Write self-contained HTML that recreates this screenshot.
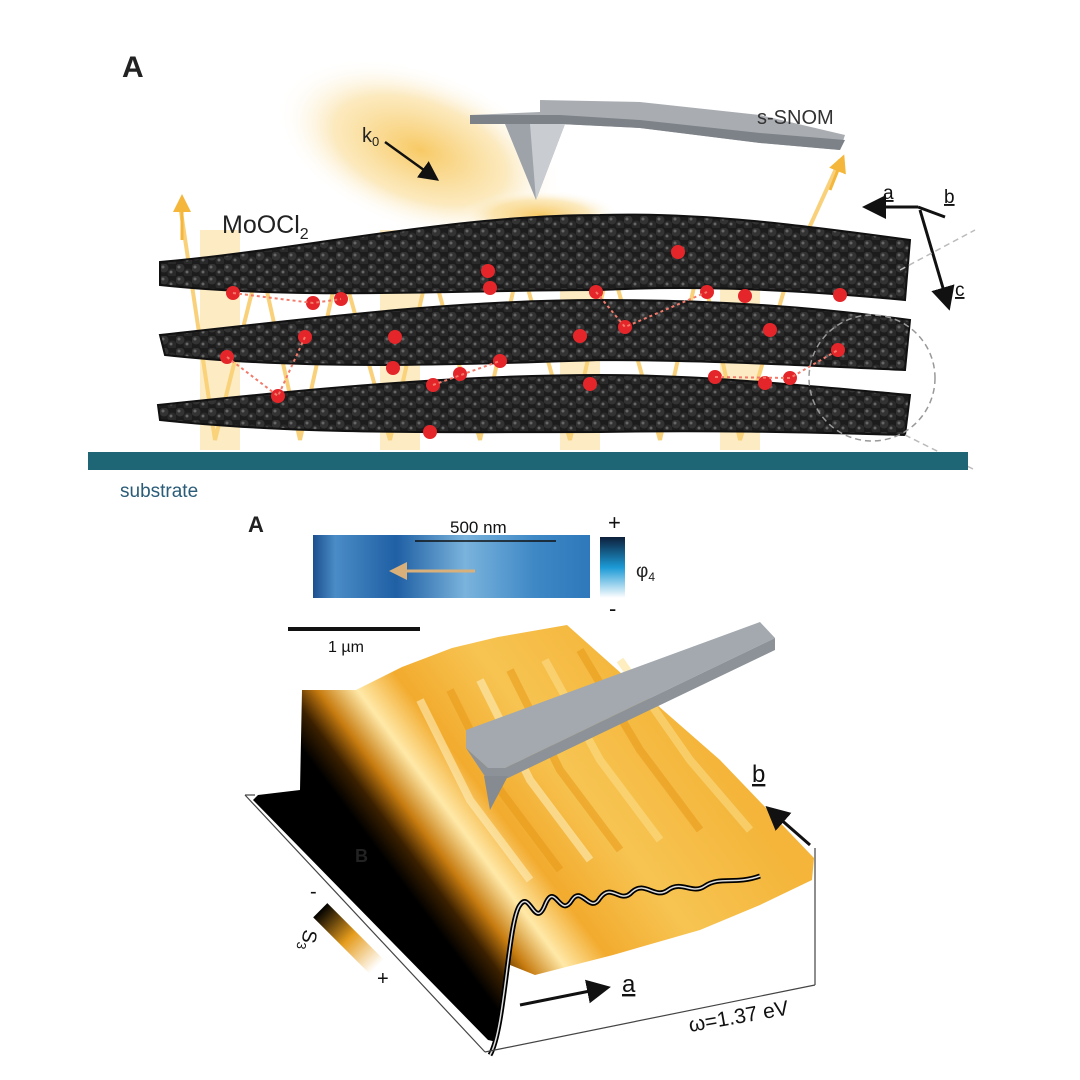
<!DOCTYPE html>
<html><head><meta charset="utf-8"><style>
html,body{margin:0;padding:0;background:#fff;}
svg{display:block;font-family:"Liberation Sans",sans-serif;}
</style></head><body>
<svg width="1080" height="1080" viewBox="0 0 1080 1080">
<defs>
<radialGradient id="glow" cx="50%" cy="50%" r="50%">
<stop offset="0" stop-color="#f6c04a" stop-opacity="0.85"/>
<stop offset="0.6" stop-color="#f8cf6e" stop-opacity="0.45"/>
<stop offset="1" stop-color="#fff" stop-opacity="0"/>
</radialGradient>
<pattern id="balls" width="16" height="12" patternUnits="userSpaceOnUse">
<rect width="16" height="12" fill="#1c1c1c"/>
<circle cx="4" cy="4" r="4.5" fill="#333"/>
<circle cx="12" cy="9" r="4.5" fill="#2a2a2a"/>
<circle cx="3" cy="3" r="1.5" fill="#666"/>
<circle cx="11" cy="8" r="1.5" fill="#666"/>
</pattern>
<linearGradient id="blue" x1="0" x2="1">
<stop offset="0" stop-color="#1d4f8f"/>
<stop offset="0.08" stop-color="#4a8cc6"/>
<stop offset="0.3" stop-color="#1f5fa4"/>
<stop offset="0.55" stop-color="#7ab3dc"/>
<stop offset="0.8" stop-color="#3e88c6"/>
<stop offset="1" stop-color="#2e78bb"/>
</linearGradient>
<linearGradient id="cbar" x1="0" y1="0" x2="0" y2="1">
<stop offset="0" stop-color="#0d1f3a"/>
<stop offset="0.5" stop-color="#1c9ad6"/>
<stop offset="1" stop-color="#ffffff"/>
</linearGradient>
<linearGradient id="surf" gradientUnits="userSpaceOnUse" x1="315" y1="900" x2="635" y2="660">
<stop offset="0" stop-color="#000"/>
<stop offset="0.2" stop-color="#000"/>
<stop offset="0.26" stop-color="#3a2000"/>
<stop offset="0.32" stop-color="#c77c10"/>
<stop offset="0.4" stop-color="#ffe9a8"/>
<stop offset="0.5" stop-color="#f2ab2e"/>
<stop offset="0.7" stop-color="#f7c452"/>
<stop offset="1" stop-color="#f4b53a"/>
</linearGradient>
<linearGradient id="s3" x1="0" y1="0" x2="1" y2="0">
<stop offset="0" stop-color="#000"/>
<stop offset="0.5" stop-color="#e59c1d"/>
<stop offset="1" stop-color="#fff"/>
</linearGradient>
<marker id="ah" markerWidth="8" markerHeight="8" refX="6" refY="4" orient="auto" markerUnits="strokeWidth"><path d="M0,0 L8,4 L0,8 Z" fill="#111"/></marker>
<marker id="ahy" markerWidth="6" markerHeight="6" refX="4" refY="3" orient="auto"><path d="M0,0 L6,3 L0,6 Z" fill="#f5b73b"/></marker>
<marker id="aht" markerWidth="6" markerHeight="6" refX="4" refY="3" orient="auto"><path d="M0,0 L6,3 L0,6 Z" fill="#d9b07a"/></marker>
</defs>

<text x="122" y="77" font-size="30" font-weight="bold" fill="#222">A</text>

<ellipse cx="420" cy="150" rx="150" ry="80" fill="url(#glow)" transform="rotate(20 420 150)"/>
<ellipse cx="540" cy="215" rx="80" ry="25" fill="url(#glow)"/>

<g stroke="#f7c55a" stroke-width="4" opacity="0.8" fill="none">
<path d="M180,205 L215,440 L260,260 L300,440 L340,260 L390,440 L430,260 L480,440 L520,260 L570,440 L610,260 L660,440 L700,260 L740,440 L790,270 L840,160"/>
</g>
<line x1="182" y1="240" x2="182" y2="200" stroke="#f5b73b" stroke-width="3" marker-end="url(#ahy)"/>
<line x1="830" y1="190" x2="842" y2="160" stroke="#f5b73b" stroke-width="3" marker-end="url(#ahy)"/>
<g fill="#f8d37a" opacity="0.45">
<rect x="200" y="230" width="40" height="220"/><rect x="380" y="230" width="40" height="220"/><rect x="560" y="230" width="40" height="220"/><rect x="720" y="230" width="40" height="220"/>
</g>

<g fill="url(#balls)" stroke="#111" stroke-width="2">
<path d="M160,262 C300,250 450,215 600,215 C700,212 800,225 910,240 L905,300 C800,290 700,285 600,290 C450,290 300,300 160,285 Z"/>
<path d="M160,335 C300,320 450,300 600,300 C700,300 800,305 910,320 L905,370 C800,365 700,360 600,360 C450,365 300,370 165,355 Z"/>
<path d="M158,405 C300,390 450,375 600,375 C700,375 800,385 910,395 L905,435 C800,432 700,430 600,432 C450,432 300,435 160,420 Z"/>
</g>
<g fill="#e4262a">
<circle cx="233" cy="293" r="7"/><circle cx="313" cy="303" r="7"/><circle cx="341" cy="299" r="7"/><circle cx="490" cy="288" r="7"/><circle cx="488" cy="271" r="7"/><circle cx="596" cy="292" r="7"/><circle cx="625" cy="327" r="7"/><circle cx="678" cy="252" r="7"/><circle cx="707" cy="292" r="7"/><circle cx="745" cy="296" r="7"/><circle cx="580" cy="336" r="7"/><circle cx="227" cy="357" r="7"/><circle cx="305" cy="337" r="7"/><circle cx="395" cy="337" r="7"/><circle cx="393" cy="368" r="7"/><circle cx="278" cy="396" r="7"/><circle cx="433" cy="385" r="7"/><circle cx="460" cy="374" r="7"/><circle cx="500" cy="361" r="7"/><circle cx="430" cy="432" r="7"/><circle cx="590" cy="384" r="7"/><circle cx="715" cy="377" r="7"/><circle cx="790" cy="378" r="7"/><circle cx="765" cy="383" r="7"/><circle cx="838" cy="350" r="7"/><circle cx="840" cy="295" r="7"/><circle cx="770" cy="330" r="7"/>
</g>
<g stroke="#f27a6a" stroke-width="2" stroke-dasharray="3,3" fill="none">
<path d="M233,293 L313,303 L341,299"/><path d="M227,357 L278,396 L305,337"/><path d="M433,385 L500,361"/><path d="M596,292 L625,327 L707,292"/><path d="M715,377 L790,378 L838,350"/>
</g>

<polygon points="470,115 540,112 540,100 640,102 760,115 845,135 840,150 760,143 640,128 560,124 470,124" fill="#a9adb2"/>
<polygon points="470,115 560,115 640,120 760,133 845,140 840,150 760,143 640,128 560,124 470,124" fill="#7d8288"/>
<polygon points="505,124 565,124 536,200" fill="#9ea3a9"/>
<polygon points="530,124 565,124 536,200" fill="#c9ccd0"/>
<text x="757" y="124" font-size="20" fill="#333">s-SNOM</text>
<text x="362" y="142" font-size="20" fill="#222">k<tspan font-size="13" dy="4">0</tspan></text>
<line x1="385" y1="142" x2="435" y2="178" stroke="#111" stroke-width="2.5" marker-end="url(#ah)"/>
<text x="222" y="233" font-size="25" fill="#222">MoOCl<tspan font-size="16" dy="6">2</tspan></text>

<line x1="918" y1="207" x2="868" y2="207" stroke="#111" stroke-width="3" marker-end="url(#ah)"/>
<line x1="918" y1="207" x2="945" y2="217" stroke="#111" stroke-width="3"/>
<line x1="920" y1="210" x2="948" y2="305" stroke="#111" stroke-width="3" marker-end="url(#ah)"/>
<text x="883" y="199" font-size="19" text-decoration="underline" fill="#111">a</text>
<text x="944" y="203" font-size="19" text-decoration="underline" fill="#111">b</text>
<text x="955" y="296" font-size="19" text-decoration="underline" fill="#111">c</text>
<circle cx="872" cy="378" r="63" fill="none" stroke="#999" stroke-width="1.5" stroke-dasharray="6,4"/>
<line x1="900" y1="270" x2="975" y2="230" stroke="#bbb" stroke-width="1.5" stroke-dasharray="6,4"/>
<line x1="905" y1="435" x2="975" y2="470" stroke="#bbb" stroke-width="1.5" stroke-dasharray="6,4"/>

<rect x="88" y="452" width="880" height="18" fill="#1e6576"/>
<text x="120" y="497" font-size="19" fill="#2a5c78">substrate</text>

<text x="248" y="532" font-size="22" font-weight="bold" fill="#222">A</text>
<rect x="313" y="535" width="277" height="63" fill="url(#blue)"/>
<line x1="415" y1="541" x2="556" y2="541" stroke="#111" stroke-width="1.5"/>
<text x="450" y="533" font-size="17" fill="#111">500 nm</text>
<line x1="475" y1="571" x2="395" y2="571" stroke="#d9b07a" stroke-width="3" marker-end="url(#aht)"/>
<rect x="600" y="537" width="25" height="61" fill="url(#cbar)"/>
<text x="608" y="530" font-size="22" fill="#111">+</text>
<text x="609" y="616" font-size="22" fill="#111">-</text>
<text x="636" y="577" font-size="19" fill="#222">φ<tspan font-size="12" dy="4">4</tspan></text>
<line x1="288" y1="629" x2="420" y2="629" stroke="#111" stroke-width="4"/>
<text x="328" y="652" font-size="16" fill="#111">1 µm</text>

<polygon points="253,800 258,795 300,790 302,690 356,690 402,667 452,648 498,637 567,625 640,690 720,760 814,858 812,880 760,905 700,930 613,955 535,975 510,965 505,1000 497,1042 488,1040" fill="url(#surf)"/>
<g stroke-width="8" fill="none" opacity="0.55">
<path d="M420,700 L470,800 L530,880" stroke="#fff3c4"/>
<path d="M450,690 L500,790 L560,870" stroke="#e89a18"/>
<path d="M480,680 L530,780 L590,860" stroke="#fff3c4"/>
<path d="M510,670 L560,770 L620,850" stroke="#e89a18"/>
<path d="M545,660 L600,760 L660,840" stroke="#fde08c"/>
<path d="M580,650 L640,750 L700,830" stroke="#e89a18"/>
<path d="M620,660 L690,760 L750,830" stroke="#fde08c"/>
</g>
<path d="M490,1055 C505,1030 508,920 520,905 C530,890 535,930 545,905 C555,880 560,920 572,900 C582,885 590,915 600,898 C612,882 620,905 632,892 C645,880 655,900 668,890 C682,880 692,895 705,886 C720,876 735,885 760,876" stroke="#000" stroke-width="5" fill="none"/>
<path d="M490,1055 C505,1030 508,920 520,905 C530,890 535,930 545,905 C555,880 560,920 572,900 C582,885 590,915 600,898 C612,882 620,905 632,892 C645,880 655,900 668,890 C682,880 692,895 705,886 C720,876 735,885 760,876" stroke="#ddd" stroke-width="1.5" fill="none"/>
<polygon points="466,730 760,622 775,638 505,768 488,768 466,748" fill="#a3a9af"/>
<polygon points="466,748 488,768 505,768 775,638 775,650 508,778 486,778" fill="#8c9298"/>
<polygon points="484,776 508,776 490,810" fill="#858b91"/>
<g stroke="#444" stroke-width="1.2" fill="none">
<line x1="245" y1="795" x2="485" y2="1052"/>
<line x1="485" y1="1052" x2="815" y2="985"/>
<line x1="815" y1="848" x2="815" y2="985"/>
<line x1="245" y1="795" x2="255" y2="795"/>
</g>
<line x1="810" y1="845" x2="770" y2="810" stroke="#111" stroke-width="3" marker-end="url(#ah)"/>
<text x="752" y="782" font-size="24" text-decoration="underline" fill="#111">b</text>
<line x1="520" y1="1005" x2="605" y2="988" stroke="#111" stroke-width="3" marker-end="url(#ah)"/>
<text x="622" y="992" font-size="24" text-decoration="underline" fill="#111">a</text>
<text x="690" y="1032" font-size="21" fill="#111" transform="rotate(-10 690 1032)">ω=1.37 eV</text>
<g transform="rotate(45 345 935)">
<rect x="310" y="925" width="80" height="20" fill="url(#s3)"/>
</g>
<text x="310" y="898" font-size="20" fill="#111">-</text>
<text x="377" y="985" font-size="20" fill="#111">+</text>
<text x="300" y="948" font-size="20" fill="#111" transform="rotate(100 310 940)">S<tspan font-size="13" dy="4">3</tspan></text>
<text x="355" y="862" font-size="18" font-weight="bold" fill="#222">B</text>
</svg>
</body></html>
